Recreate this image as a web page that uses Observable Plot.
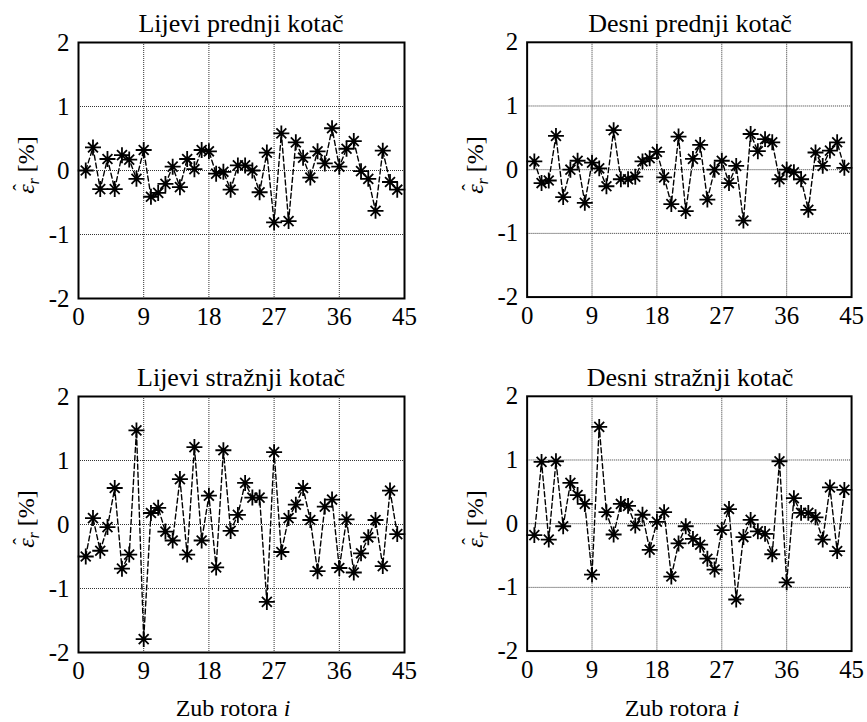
<!DOCTYPE html>
<html><head><meta charset="utf-8">
<script src="https://cdn.jsdelivr.net/npm/d3@7"></script>
<script src="https://cdn.jsdelivr.net/npm/@observablehq/plot@0.6"></script>
<style>
body{margin:0;background:#fff;overflow:hidden}
#root{position:relative;width:867px;height:722px;font-family:"Liberation Serif","Times New Roman",serif;color:#000;background:#fff}
#root svg, #root svg text, #root svg g{font-family:"Liberation Serif","Times New Roman",serif !important}
.panel{position:absolute}
.title{position:absolute;font-size:26px;line-height:26px;white-space:nowrap;transform:translateX(-50%)}
.xlab{position:absolute;font-size:24px;line-height:24px;white-space:nowrap;transform:translateX(-50%)}
.ylab{position:absolute;font-size:24px;line-height:24px;white-space:nowrap;transform:translate(-50%,-50%) rotate(-90deg)}
.ylab sub{font-size:16px}
.eps{position:relative;display:inline-block}
.hat{position:absolute;left:3px;top:-5px;font-size:20px;font-style:normal}
</style></head>
<body><div id="root"></div>
<script>
const teeth = [1,2,3,4,5,6,7,8,9,10,11,12,13,14,15,16,17,18,19,20,21,22,23,24,25,26,27,28,29,30,31,32,33,34,35,36,37,38,39,40,41,42,43,44];
const titles = ["Lijevi prednji kotač","Desni prednji kotač","Lijevi stražnji kotač","Desni stražnji kotač"];
const xTicks = [0,9,18,27,36,45];
const yTicks = [-2,-1,0,1,2];
const gridX = [9,18,27,36];
const gridY = [-1,0,1];
const leftFront = [0.0,0.36,-0.29,0.18,-0.29,0.24,0.17,-0.13,0.32,-0.41,-0.35,-0.21,0.06,-0.26,0.18,0.02,0.32,0.30,-0.05,-0.02,-0.30,0.08,0.08,0.0,-0.34,0.28,-0.81,0.58,-0.79,0.44,0.20,-0.11,0.30,0.11,0.66,0.06,0.34,0.46,-0.01,-0.13,-0.63,0.31,-0.18,-0.30];
const rightFront = [0.13,-0.21,-0.17,0.53,-0.43,0.0,0.14,-0.52,0.11,0.02,-0.26,0.62,-0.15,-0.15,-0.11,0.13,0.18,0.28,-0.12,-0.54,0.52,-0.65,0.17,0.39,-0.47,0.0,0.14,-0.21,0.06,-0.80,0.56,0.29,0.48,0.43,-0.15,0.0,-0.04,-0.15,-0.63,0.27,0.06,0.30,0.43,0.03];
const leftRear = [-0.5,0.10,-0.41,-0.04,0.57,-0.69,-0.47,1.47,-1.79,0.18,0.26,-0.11,-0.25,0.71,-0.47,1.21,-0.25,0.45,-0.67,1.16,-0.10,0.15,0.65,0.42,0.42,-1.21,1.13,-0.43,0.10,0.31,0.57,0.07,-0.73,0.28,0.39,-0.68,0.08,-0.75,-0.45,-0.2,0.07,-0.65,0.53,-0.15];
const rightRear = [-0.18,0.97,-0.25,0.98,-0.04,0.64,0.45,0.31,-0.80,1.52,0.18,-0.17,0.31,0.28,-0.03,0.14,-0.41,0.03,0.18,-0.83,-0.31,-0.04,-0.24,-0.33,-0.55,-0.72,-0.10,0.23,-1.19,-0.21,0.06,-0.12,-0.16,-0.48,0.98,-0.92,0.40,0.17,0.17,0.10,-0.25,0.57,-0.43,0.53];

const asterisk = {
  draw(ctx, size) {
    const r = Math.sqrt(size / Math.PI), d = r * 0.62;
    ctx.moveTo(-r, 0); ctx.lineTo(r, 0);
    ctx.moveTo(0, -r); ctx.lineTo(0, r);
    ctx.moveTo(-d, -d); ctx.lineTo(d, d);
    ctx.moveTo(-d, d); ctx.lineTo(d, -d);
  }
};

const root = document.getElementById("root");
const W = 420, H = 330, ML = 78, MR = 16, MT = 42, MB = 32;
const serif = '"Liberation Serif","Times New Roman",serif';

function panel(vals, title, left, top, showX) {
  const data = teeth.map((t, k) => ({t, v: vals[k]}));
  const chart = Plot.plot({
    width: W, height: H, marginLeft: ML, marginRight: MR, marginTop: MT, marginBottom: MB,
    style: {fontFamily: serif, fontSize: "25px", background: "transparent", overflow: "visible", color: "#000"},
    x: {domain: [0, 45], ticks: xTicks, tickSize: 0, tickPadding: 9, label: null, tickFormat: d => String(d)},
    y: {domain: [-2, 2], ticks: yTicks, tickSize: 0, tickPadding: 9, label: null, tickFormat: d => String(d)},
    marks: [
      Plot.ruleX(gridX, {stroke: "#333", strokeWidth: 1, strokeDasharray: "1,1"}),
      Plot.ruleY(gridY, {stroke: "#333", strokeWidth: 1, strokeDasharray: "1,1"}),
      Plot.line(data, {x: "t", y: "v", stroke: "black", strokeWidth: 1.4, strokeDasharray: "5,3"}),
      Plot.dot(data, {x: "t", y: "v", symbol: asterisk, r: 8, stroke: "black", fill: "none", strokeWidth: 1.8}),
      Plot.frame({stroke: "black", strokeWidth: 2})
    ]
  });
  const wrap = document.createElement("div");
  wrap.className = "panel";
  wrap.style.left = left + "px";
  wrap.style.top = top + "px";
  wrap.appendChild(chart);
  root.appendChild(wrap);
  const cx = left + ML + (W - ML - MR) / 2;
  const t = document.createElement("div");
  t.className = "title";
  t.style.left = cx + "px";
  t.style.top = (top + 11) + "px";
  t.textContent = title;
  root.appendChild(t);
  const yl = document.createElement("div");
  yl.className = "ylab";
  yl.style.left = (left + 30) + "px";
  yl.style.top = (top + 165) + "px";
  yl.innerHTML = '<span class="eps"><i>ε</i><span class="hat">ˆ</span></span><sub><i>r</i></sub> [%]';
  root.appendChild(yl);
  if (showX) {
    const xl = document.createElement("div");
    xl.className = "xlab";
    xl.style.left = (cx - 8) + "px";
    xl.style.top = (top + 342) + "px";
    xl.innerHTML = "Zub rotora <i>i</i>";
    root.appendChild(xl);
  }
}

panel(leftFront, titles[0], 0, 0, false);
panel(rightFront, titles[1], 449, 0, false);
panel(leftRear, titles[2], 0, 354, true);
panel(rightRear, titles[3], 449, 354, true);
</script>
</body></html>
